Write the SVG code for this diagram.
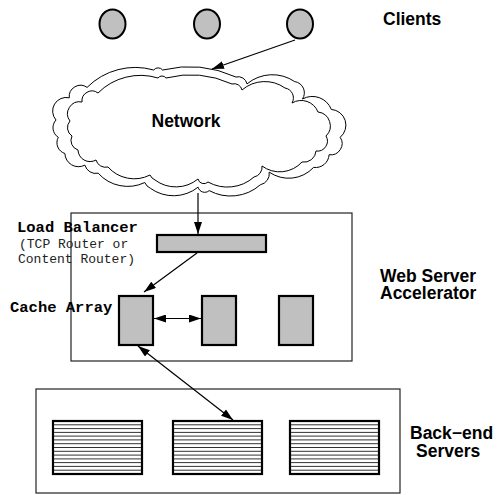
<svg xmlns="http://www.w3.org/2000/svg" width="500" height="495" viewBox="0 0 500 495">
  <style>
    .label { font-family: "Liberation Sans", Arial, sans-serif; font-weight: bold; font-size: 17.5px; fill: #000; }
    .mono-b { font-family: "Liberation Mono", "Courier New", monospace; font-weight: bold; font-size: 15.5px; fill: #000; }
    .mono { font-family: "Liberation Mono", "Courier New", monospace; font-size: 13px; fill: #222; }
    .client { fill: #c0c0c0; stroke: #000; stroke-width: 2; }
    .unit { fill: #c0c0c0; stroke: #000; stroke-width: 2.2; }
    .frame { fill: none; stroke: #222; stroke-width: 1.2; }
    .cloud { fill: #fff; stroke: #000; stroke-width: 1; }
    .server { fill: #fff; stroke: #000; stroke-width: 2.2; }
    .rule { fill: none; stroke: #333; stroke-width: 1; }
    .link { fill: none; stroke: #000; stroke-width: 1.2; }
  </style>
  <defs>
    <marker id="head" viewBox="0 0 12 8" markerWidth="12" markerHeight="8" refX="12" refY="4" orient="auto-start-reverse" markerUnits="userSpaceOnUse">
      <path d="M0,0 L12,4 L0,8 z" fill="#000"/>
    </marker>
    <g id="serverBox">
      <rect class="server" x="0" y="0" width="89" height="53"/>
      <path class="rule" d="M1,3.8H88M1,7.6H88M1,11.4H88M1,15.1H88M1,18.9H88M1,22.7H88M1,26.5H88M1,30.3H88M1,34.1H88M1,37.9H88M1,41.6H88M1,45.4H88M1,49.2H88"/>
    </g>
  </defs>

  <!-- clients -->
  <g id="clients">
    <ellipse class="client" cx="112.5" cy="24" rx="13" ry="14.5"/>
    <ellipse class="client" cx="207" cy="24" rx="13" ry="14.5"/>
    <ellipse class="client" cx="300" cy="24" rx="13" ry="14.5"/>
    <text class="label" x="383" y="25">Clients</text>
  </g>

  <!-- network cloud: outer rim, then inner body on top -->
  <g id="network">
    <path class="cloud" d="M 56,120 A 13.6 13.6 0 0 1 69.3,97.8 A 11.3 11.3 0 0 1 87.1,87.4 A 68 68 0 0 1 153.7,70 A 5.7 5.7 0 0 1 162.6,70 A 113 113 0 0 1 235.9,77 A 9 9 0 0 1 247,83.9 A 39.6 39.6 0 0 1 294.7,81.6 A 11.3 11.3 0 0 1 302.5,99 A 20.3 20.3 0 0 1 331.3,109.4 A 15.8 15.8 0 0 1 340.2,137.3 A 11.3 11.3 0 0 1 329.1,154.7 A 13.6 13.6 0 0 1 313.6,167.4 A 34 34 0 0 1 269.2,172.1 A 11.3 11.3 0 0 1 260.3,184.8 A 45 45 0 0 1 209.2,190.6 A 6.8 6.8 0 0 1 198.1,187.2 A 39.6 39.6 0 0 1 150.4,188.3 A 11.3 11.3 0 0 1 144.8,182.5 A 39.6 39.6 0 0 1 98.2,173.2 A 11.3 11.3 0 0 1 84.9,165.1 A 13.6 13.6 0 0 1 64.9,153.5 A 11.3 11.3 0 0 1 58.3,137.3 A 11.3 11.3 0 0 1 56,120 Z"/>
    <path class="cloud" d="M 70,121 A 12 12 0 0 1 82,102 A 10 10 0 0 1 98,93 A 60 60 0 0 1 158,78 A 5 5 0 0 1 166,78 A 100 100 0 0 1 232,84 A 8 8 0 0 1 242,90 A 35 35 0 0 1 285,88 A 10 10 0 0 1 292,103 A 18 18 0 0 1 318,112 A 14 14 0 0 1 326,136 A 10 10 0 0 1 316,151 A 12 12 0 0 1 302,162 A 30 30 0 0 1 262,166 A 10 10 0 0 1 254,177 A 40 40 0 0 1 208,182 A 6 6 0 0 1 198,179 A 35 35 0 0 1 155,180 A 10 10 0 0 1 150,175 A 35 35 0 0 1 108,167 A 10 10 0 0 1 96,160 A 12 12 0 0 1 78,150 A 10 10 0 0 1 72,136 A 10 10 0 0 1 70,121 Z"/>
    <text class="label" x="151.5" y="127">Network</text>
  </g>

  <!-- web server accelerator -->
  <g id="accelerator">
    <rect class="frame" x="71" y="213" width="281" height="148"/>
    <text class="label" x="380" y="281.5">Web Server</text>
    <text class="label" x="380" y="298.5">Accelerator</text>
  </g>

  <g id="load-balancer">
    <rect class="unit" x="157" y="235" width="109" height="17"/>
    <text class="mono-b" x="17" y="232">Load Balancer</text>
    <text class="mono" x="19" y="248">(TCP Router or</text>
    <text class="mono" x="18" y="263">Content Router)</text>
  </g>

  <g id="cache-array">
    <rect class="unit" x="119" y="296" width="34" height="49"/>
    <rect class="unit" x="202" y="296" width="34" height="49"/>
    <rect class="unit" x="279" y="296" width="34" height="49"/>
    <text class="mono-b" x="10" y="312">Cache Array</text>
  </g>

  <!-- back-end servers -->
  <g id="backend">
    <rect class="frame" x="36" y="389" width="364" height="104"/>
    <use href="#serverBox" x="53" y="421"/>
    <use href="#serverBox" x="173" y="421"/>
    <use href="#serverBox" x="290" y="421"/>
    <text class="label" x="410" y="439">Back−end</text>
    <text class="label" x="416" y="456.5">Servers</text>
  </g>

  <!-- connectors -->
  <g id="connectors">
    <line class="link" x1="295" y1="40" x2="212" y2="69" marker-end="url(#head)"/>
    <line class="link" x1="198" y1="193" x2="198" y2="234" marker-end="url(#head)"/>
    <line class="link" x1="197" y1="253" x2="144" y2="292" marker-end="url(#head)"/>
    <line class="link" x1="154" y1="318.5" x2="201" y2="318.5" marker-start="url(#head)" marker-end="url(#head)"/>
    <line class="link" x1="138" y1="346" x2="233" y2="420" marker-start="url(#head)" marker-end="url(#head)"/>
  </g>
</svg>
